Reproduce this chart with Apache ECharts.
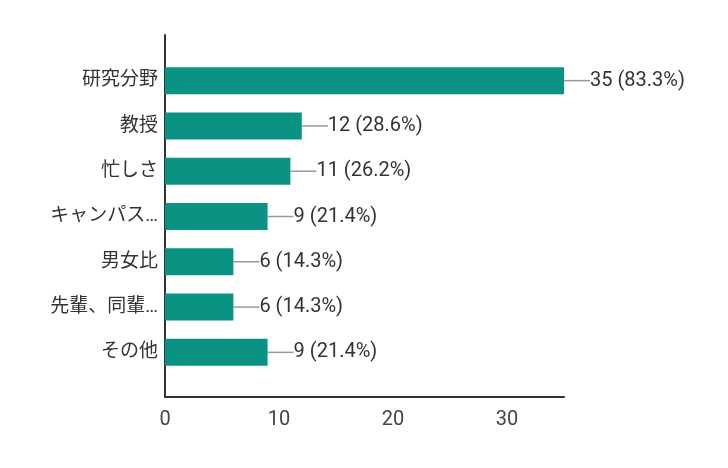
<!DOCTYPE html>
<html><head><meta charset="utf-8">
<script src="https://cdn.jsdelivr.net/npm/echarts@6/dist/echarts.min.js"></script>
<style>html,body{margin:0;padding:0;background:#fff}#c{width:728px;height:468px}</style>
</head><body><div id="c"></div>
<script>
var categories = ['研究分野','教授','忙しさ','キャンパス…','男女比','先輩、同輩…','その他'];
var counts = [35,12,11,9,6,6,9];
var percents = ['83.3','28.6','26.2','21.4','14.3','14.3','21.4'];
var xTicks = [0,10,20,30];

var chart = echarts.init(document.getElementById('c'));
var txt = '#333333';
var font = 'Roboto, "Noto Sans CJK JP", sans-serif';
chart.setOption({
  animation:false,
  textStyle:{fontFamily:font},
  grid:[
    {left:165,right:164,top:35,bottom:71},
    {left:165,right:164,top:58,bottom:93}
  ],
  xAxis:[
    {gridIndex:0,type:'value',min:0,max:35,interval:10,
     axisLine:{show:true,lineStyle:{color:'#333',width:2}},
     axisTick:{show:false},splitLine:{show:false},
     axisLabel:{color:'#444',fontSize:20,margin:13,fontFamily:font,showMaxLabel:false,
       formatter:function(v){return xTicks.indexOf(v)>=0?String(v):'';}}},
    {gridIndex:1,type:'value',min:0,max:35,show:false}
  ],
  yAxis:[
    {gridIndex:0,type:'value',min:0,max:1,axisLine:{show:true,lineStyle:{color:'#333',width:2}},
     axisLabel:{show:false},axisTick:{show:false},splitLine:{show:false}},
    {gridIndex:1,type:'category',data:categories,inverse:true,
     axisLine:{show:false},axisTick:{show:false},
     axisLabel:{color:'#333',fontSize:19,margin:7,fontFamily:font}}
  ],
  series:[{
    type:'bar',xAxisIndex:1,yAxisIndex:1,
    data:counts,barWidth:27,
    itemStyle:{color:'#0a9382'},
    label:{show:true,position:'right',distance:0,color:txt,fontSize:20,fontFamily:font,
      formatter:function(p){return counts[p.dataIndex]+' ('+percents[p.dataIndex]+'%)';}},
    labelLayout:{dx:26},
    labelLine:{show:true,lineStyle:{color:'#999',width:1.5}}
  }]
});
</script></body></html>
